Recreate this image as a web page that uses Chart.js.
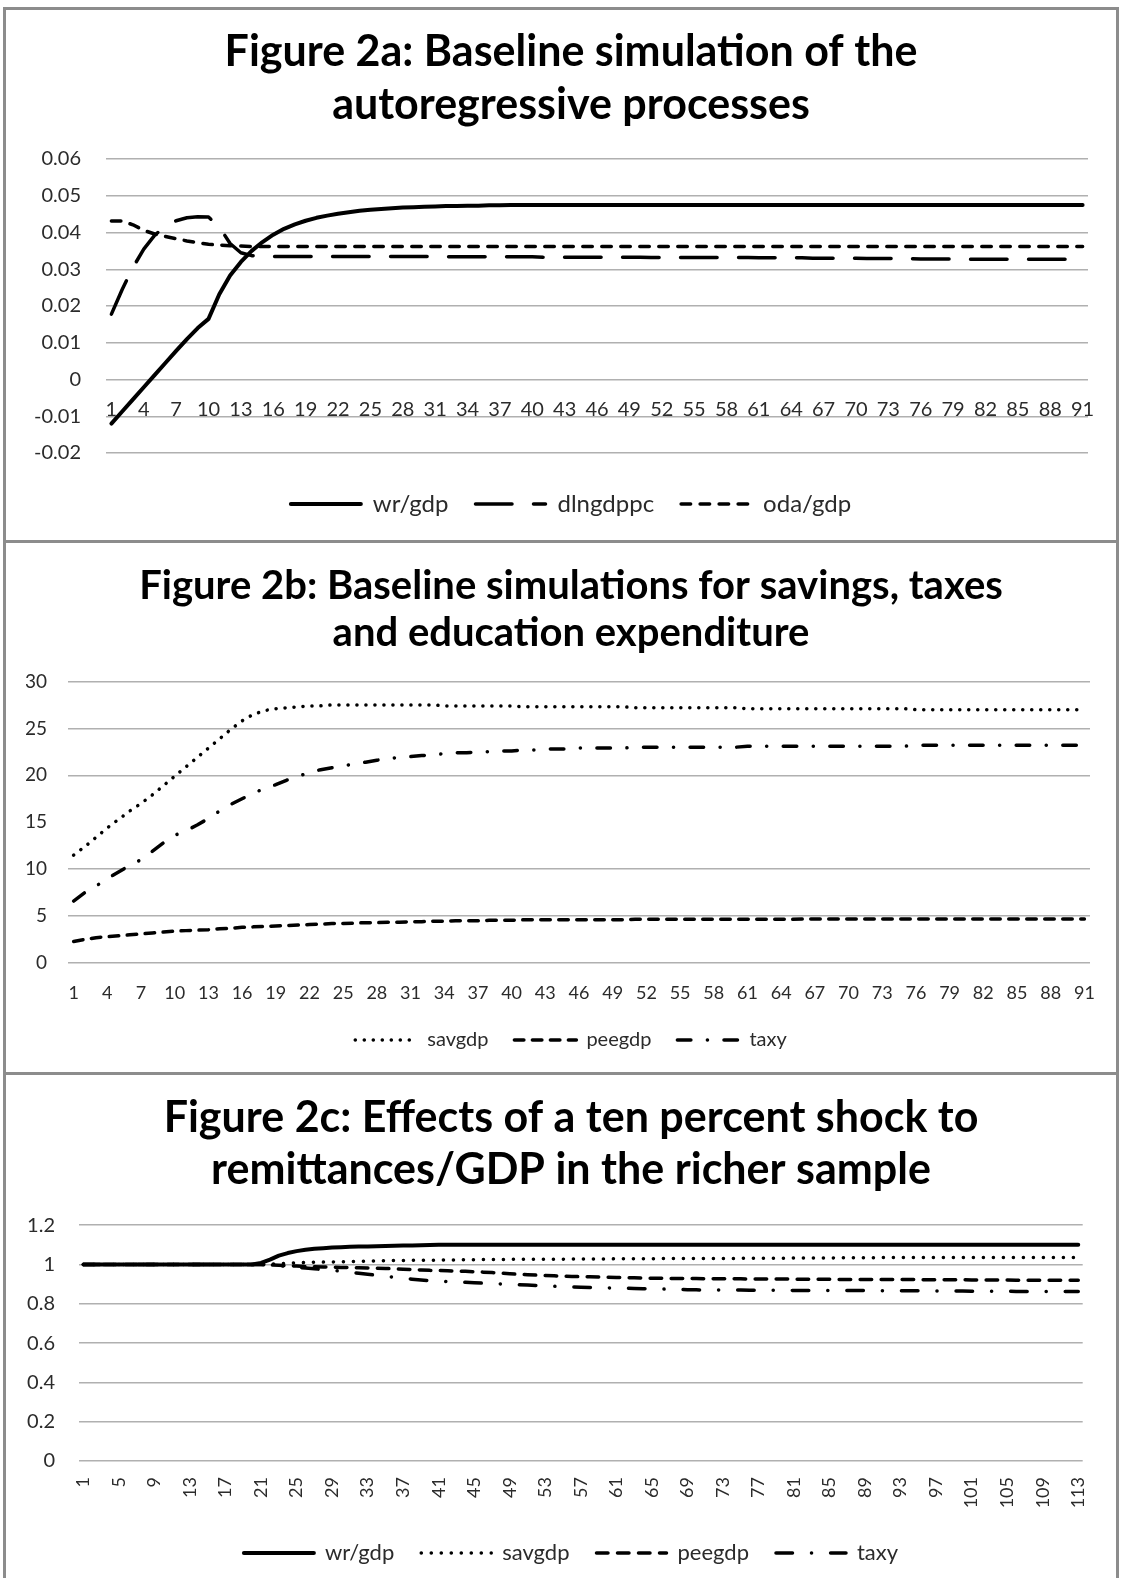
<!DOCTYPE html>
<html>
<head>
<meta charset="utf-8">
<script src="https://cdn.jsdelivr.net/npm/chart.js@4.4.1/dist/chart.umd.min.js"></script>
<style>
	html, body { margin: 0; padding: 0; background: #fff; }
	body { width: 1121px; height: 1578px; overflow: hidden; position: relative; }
	.panel { position: absolute; left: 3px; width: 1116px; border: 3px solid #8c8c8c; box-sizing: border-box; background: #fff; }
	.panel canvas { display: block; }
	#panelA { top: 7px; height: 536px; }
	#panelB { top: 540px; height: 535px; }
	#panelC { top: 1072px; height: 600px; }
</style>
</head>
<body>
<div class="panel" id="panelA"><canvas id="fig2a" width="1110" height="530"></canvas></div>
<div class="panel" id="panelB"><canvas id="fig2b" width="1110" height="529"></canvas></div>
<div class="panel" id="panelC"><canvas id="fig2c" width="1110" height="503"></canvas></div>
<script>
// Figure 2a: baseline simulation of the autoregressive processes (periods 1..91)
const fig2aPeriods = Array.from({ length: 91 }, (_, i) => String(i + 1));
const fig2aWrGdp = [
	-0.0120, -0.0087, -0.0054, -0.0021, 0.0012, 0.0045, 0.0078, 0.0110, 0.0140, 0.0165,
	0.0232, 0.0283, 0.0320, 0.0350, 0.0374, 0.0394, 0.0410, 0.0422, 0.0432, 0.0440,
	0.0446, 0.0451, 0.0455, 0.0459, 0.0462, 0.0464, 0.0466, 0.0468, 0.0469, 0.0470,
	0.0471, 0.0472, 0.0472, 0.0473, 0.0473, 0.0474, 0.0474, 0.0475, 0.0475, 0.0475,
	0.0475, 0.0475, 0.0475, 0.0475, 0.0475, 0.0475, 0.0475, 0.0475, 0.0475, 0.0475,
	0.0475, 0.0475, 0.0475, 0.0475, 0.0475, 0.0475, 0.0475, 0.0475, 0.0475, 0.0475,
	0.0475, 0.0475, 0.0475, 0.0475, 0.0475, 0.0475, 0.0475, 0.0475, 0.0475, 0.0475,
	0.0475, 0.0475, 0.0475, 0.0475, 0.0475, 0.0475, 0.0475, 0.0475, 0.0475, 0.0475,
	0.0475, 0.0475, 0.0475, 0.0475, 0.0475, 0.0475, 0.0475, 0.0475, 0.0475, 0.0475,
	0.0475
];
const fig2aDlngdppc = [
	0.0178, 0.0245, 0.0305, 0.0355, 0.0392, 0.0418, 0.0432, 0.0440, 0.0443, 0.0442,
	0.0415, 0.0370, 0.0345, 0.0337, 0.0335, 0.0335, 0.0335, 0.0335, 0.0335, 0.0335,
	0.0335, 0.0335, 0.0335, 0.0335, 0.0335, 0.0335, 0.0335, 0.0335, 0.0335, 0.0335,
	0.0334, 0.0334, 0.0334, 0.0334, 0.0334, 0.0334, 0.0334, 0.0334, 0.0334, 0.0334,
	0.0333, 0.0333, 0.0333, 0.0333, 0.0333, 0.0333, 0.0333, 0.0333, 0.0333, 0.0333,
	0.0332, 0.0332, 0.0332, 0.0332, 0.0332, 0.0332, 0.0332, 0.0332, 0.0332, 0.0332,
	0.0331, 0.0331, 0.0331, 0.0331, 0.0331, 0.0330, 0.0330, 0.0330, 0.0330, 0.0330,
	0.0329, 0.0329, 0.0329, 0.0329, 0.0329, 0.0328, 0.0328, 0.0328, 0.0328, 0.0328,
	0.0327, 0.0327, 0.0327, 0.0327, 0.0327, 0.0327, 0.0327, 0.0327, 0.0327, 0.0327,
	0.0327
];
const fig2aOdaGdp = [
	0.0431, 0.0431, 0.0421, 0.0406, 0.0396, 0.0389, 0.0383, 0.0377, 0.0372, 0.0368,
	0.0366, 0.0364, 0.0363, 0.0362, 0.0362, 0.0362, 0.0362, 0.0362, 0.0362, 0.0362,
	0.0362, 0.0362, 0.0362, 0.0362, 0.0362, 0.0362, 0.0362, 0.0362, 0.0362, 0.0362,
	0.0362, 0.0362, 0.0362, 0.0362, 0.0362, 0.0362, 0.0362, 0.0362, 0.0362, 0.0362,
	0.0362, 0.0362, 0.0362, 0.0362, 0.0362, 0.0362, 0.0362, 0.0362, 0.0362, 0.0362,
	0.0362, 0.0362, 0.0362, 0.0362, 0.0362, 0.0362, 0.0362, 0.0362, 0.0362, 0.0362,
	0.0362, 0.0362, 0.0362, 0.0362, 0.0362, 0.0362, 0.0362, 0.0362, 0.0362, 0.0362,
	0.0362, 0.0362, 0.0362, 0.0362, 0.0362, 0.0362, 0.0362, 0.0362, 0.0362, 0.0362,
	0.0362, 0.0362, 0.0362, 0.0362, 0.0362, 0.0362, 0.0362, 0.0362, 0.0362, 0.0362,
	0.0362
];

// Figure 2b: savings, taxes and education expenditure (periods 1..91)
const fig2bPeriods = Array.from({ length: 91 }, (_, i) => String(i + 1));
const fig2bSavgdp = [
	11.5, 12.4, 13.4, 14.4, 15.3, 16.2, 17.0, 17.9, 18.9, 19.9,
	20.9, 21.9, 22.9, 23.9, 24.9, 25.8, 26.5, 26.9, 27.1, 27.2,
	27.3, 27.4, 27.4, 27.5, 27.5, 27.5, 27.5, 27.5, 27.5, 27.5,
	27.5, 27.5, 27.5, 27.4, 27.4, 27.4, 27.4, 27.4, 27.4, 27.4,
	27.3, 27.3, 27.3, 27.3, 27.3, 27.3, 27.3, 27.3, 27.3, 27.3,
	27.2, 27.2, 27.2, 27.2, 27.2, 27.2, 27.2, 27.2, 27.2, 27.2,
	27.1, 27.1, 27.1, 27.1, 27.1, 27.1, 27.1, 27.1, 27.1, 27.1,
	27.1, 27.1, 27.1, 27.1, 27.1, 27.0, 27.0, 27.0, 27.0, 27.0,
	27.0, 27.0, 27.0, 27.0, 27.0, 27.0, 27.0, 27.0, 27.0, 27.0,
	27.0
];
const fig2bPeegdp = [
	2.3, 2.5, 2.7, 2.8, 2.9, 3.0, 3.1, 3.2, 3.3, 3.4,
	3.45, 3.5, 3.55, 3.65, 3.7, 3.8, 3.85, 3.9, 3.95, 4.0,
	4.05, 4.1, 4.15, 4.2, 4.2, 4.25, 4.3, 4.3, 4.35, 4.35,
	4.4, 4.4, 4.45, 4.45, 4.5, 4.5, 4.5, 4.55, 4.55, 4.55,
	4.6, 4.6, 4.6, 4.6, 4.6, 4.6, 4.6, 4.6, 4.6, 4.6,
	4.65, 4.65, 4.65, 4.65, 4.65, 4.65, 4.65, 4.65, 4.65, 4.65,
	4.65, 4.65, 4.65, 4.65, 4.65, 4.7, 4.7, 4.7, 4.7, 4.7,
	4.7, 4.7, 4.7, 4.7, 4.7, 4.7, 4.7, 4.7, 4.7, 4.7,
	4.7, 4.7, 4.7, 4.7, 4.7, 4.7, 4.7, 4.7, 4.7, 4.7,
	4.7
];
const fig2bTaxy = [
	6.6, 7.5, 8.2, 9.0, 9.7, 10.4, 11.0, 11.9, 12.8, 13.6,
	14.1, 14.7, 15.4, 16.2, 16.9, 17.5, 18.1, 18.6, 19.0, 19.5,
	19.9, 20.3, 20.6, 20.8, 21.0, 21.2, 21.4, 21.6, 21.8, 21.9,
	22.0, 22.1, 22.2, 22.3, 22.4, 22.4, 22.5, 22.5, 22.6, 22.6,
	22.7, 22.7, 22.8, 22.8, 22.8, 22.9, 22.9, 22.9, 22.9, 22.9,
	23.0, 23.0, 23.0, 23.0, 23.0, 23.0, 23.0, 23.0, 23.0, 23.0,
	23.1, 23.1, 23.1, 23.1, 23.1, 23.1, 23.1, 23.1, 23.1, 23.1,
	23.1, 23.1, 23.1, 23.1, 23.1, 23.2, 23.2, 23.2, 23.2, 23.2,
	23.2, 23.2, 23.2, 23.2, 23.2, 23.2, 23.2, 23.2, 23.2, 23.2,
	23.2
];

// Figure 2c: ten percent shock to remittances/GDP, richer sample (periods 1..113)
const fig2cPeriods = Array.from({ length: 113 }, (_, i) => String(i + 1));
const fig2cWrGdp = [
	1, 1, 1, 1, 1, 1, 1, 1, 1, 1,
	1, 1, 1, 1, 1, 1, 1, 1, 1, 1,
	1.008, 1.025, 1.045, 1.058, 1.068, 1.075, 1.080, 1.083, 1.086, 1.088,
	1.090, 1.091, 1.092, 1.093, 1.094, 1.095, 1.096, 1.097, 1.098, 1.099,
	1.1, 1.1, 1.1, 1.1, 1.1, 1.1, 1.1, 1.1, 1.1, 1.1,
	1.1, 1.1, 1.1, 1.1, 1.1, 1.1, 1.1, 1.1, 1.1, 1.1,
	1.1, 1.1, 1.1, 1.1, 1.1, 1.1, 1.1, 1.1, 1.1, 1.1,
	1.1, 1.1, 1.1, 1.1, 1.1, 1.1, 1.1, 1.1, 1.1, 1.1,
	1.1, 1.1, 1.1, 1.1, 1.1, 1.1, 1.1, 1.1, 1.1, 1.1,
	1.1, 1.1, 1.1, 1.1, 1.1, 1.1, 1.1, 1.1, 1.1, 1.1,
	1.1, 1.1, 1.1, 1.1, 1.1, 1.1, 1.1, 1.1, 1.1, 1.1,
	1.1, 1.1, 1.1
];
const fig2cSavgdp = [
	1, 1, 1, 1, 1, 1, 1, 1, 1, 1,
	1, 1, 1, 1, 1, 1, 1, 1, 1, 1,
	1.000, 1.002, 1.004, 1.006, 1.008, 1.010, 1.011, 1.012, 1.013, 1.014,
	1.015, 1.016, 1.017, 1.018, 1.019, 1.020, 1.020, 1.021, 1.021, 1.022,
	1.022, 1.023, 1.023, 1.024, 1.024, 1.025, 1.025, 1.025, 1.026, 1.026,
	1.027, 1.027, 1.027, 1.027, 1.027, 1.028, 1.028, 1.028, 1.028, 1.028,
	1.029, 1.029, 1.029, 1.029, 1.029, 1.030, 1.030, 1.030, 1.030, 1.030,
	1.031, 1.031, 1.031, 1.031, 1.031, 1.032, 1.032, 1.032, 1.032, 1.032,
	1.033, 1.033, 1.033, 1.033, 1.033, 1.034, 1.034, 1.034, 1.034, 1.034,
	1.035, 1.035, 1.035, 1.035, 1.035, 1.035, 1.035, 1.035, 1.035, 1.035,
	1.036, 1.036, 1.036, 1.036, 1.036, 1.036, 1.036, 1.036, 1.036, 1.036,
	1.036, 1.036, 1.036
];
const fig2cPeegdp = [
	1, 1, 1, 1, 1, 1, 1, 1, 1, 1,
	1, 1, 1, 1, 1, 1, 1, 1, 1, 1,
	1, 0.998, 0.996, 0.994, 0.992, 0.990, 0.988, 0.987, 0.986, 0.985,
	0.984, 0.983, 0.982, 0.981, 0.980, 0.978, 0.976, 0.974, 0.972, 0.970,
	0.969, 0.968, 0.966, 0.965, 0.963, 0.961, 0.959, 0.956, 0.953, 0.950,
	0.948, 0.946, 0.944, 0.942, 0.940, 0.939, 0.938, 0.937, 0.936, 0.935,
	0.934, 0.933, 0.932, 0.931, 0.930, 0.930, 0.929, 0.929, 0.928, 0.928,
	0.927, 0.927, 0.927, 0.927, 0.927, 0.926, 0.926, 0.926, 0.926, 0.926,
	0.925, 0.925, 0.925, 0.925, 0.925, 0.924, 0.924, 0.924, 0.924, 0.924,
	0.923, 0.923, 0.923, 0.923, 0.923, 0.922, 0.922, 0.922, 0.922, 0.922,
	0.921, 0.921, 0.921, 0.921, 0.921, 0.920, 0.920, 0.920, 0.920, 0.920,
	0.920, 0.920, 0.920
];
const fig2cTaxy = [
	1, 1, 1, 1, 1, 1, 1, 1, 1, 1,
	1, 1, 1, 1, 1, 1, 1, 1, 1, 1,
	1, 0.997, 0.993, 0.990, 0.986, 0.982, 0.978, 0.974, 0.970, 0.966,
	0.961, 0.955, 0.950, 0.945, 0.940, 0.935, 0.930, 0.925, 0.921, 0.918,
	0.915, 0.913, 0.911, 0.909, 0.907, 0.905, 0.903, 0.901, 0.899, 0.897,
	0.895, 0.893, 0.891, 0.889, 0.887, 0.885, 0.884, 0.883, 0.882, 0.881,
	0.880, 0.879, 0.878, 0.877, 0.876, 0.875, 0.874, 0.873, 0.872, 0.871,
	0.870, 0.870, 0.870, 0.870, 0.870, 0.869, 0.869, 0.869, 0.869, 0.869,
	0.868, 0.868, 0.868, 0.868, 0.868, 0.867, 0.867, 0.867, 0.867, 0.867,
	0.866, 0.866, 0.866, 0.866, 0.866, 0.865, 0.865, 0.865, 0.865, 0.865,
	0.864, 0.864, 0.864, 0.864, 0.864, 0.863, 0.863, 0.863, 0.863, 0.863,
	0.862, 0.862, 0.862
];

const FONT = 'Lato, "Open Sans", "DejaVu Sans", sans-serif';
const INK = "#000000";
const GRID = "#b0b0b0";
const TICK = "#2b2b2b";

/**
 * One black line series with an Excel-like dash pattern
 */
function lineSet(label, data, width, dash) {
	return {
		label: label,
		data: data,
		borderColor: INK,
		backgroundColor: INK,
		borderWidth: width,
		borderDash: dash,
		borderCapStyle: "round",
		borderJoinStyle: "round",
		pointRadius: 0,
		pointHoverRadius: 0,
		fill: false,
		tension: 0,
		xAxisID: "x",
		yAxisID: "y",
	};
}

/**
 * Legend items drawn as short line samples that keep each dataset's dash
 */
function lineLegendLabels(chart) {
	const items = Chart.defaults.plugins.legend.labels.generateLabels(chart);
	items.forEach((item) => {
		const ds = chart.data.datasets[item.datasetIndex];
		item.lineDash = ds.borderDash;
		item.lineWidth = ds.borderWidth;
		item.lineCap = ds.borderCapStyle;
		item.strokeStyle = ds.borderColor;
	});
	return items;
}

/**
 * Build and draw one panel
 */
function drawPanel(canvasId, p) {
	const canvas = document.getElementById(canvasId);
	const config = {
		type: "line",
		data: { labels: p.labels, datasets: p.datasets },
		options: {
			responsive: false,
			animation: false,
			devicePixelRatio: 1,
			events: [],
			layout: { padding: { left: 20, right: 0, top: 0, bottom: p.bottomPad } },
			plugins: {
				tooltip: { enabled: false },
				title: {
					display: true,
					text: p.title,
					color: INK,
					font: { family: FONT, size: p.titleSize, weight: "bold", lineHeight: p.titleLineHeight },
					padding: { top: p.titleTop, bottom: p.titleBottom },
				},
				legend: {
					position: "bottom",
					labels: {
						usePointStyle: true,
						pointStyle: "line",
						pointStyleWidth: p.legendSample,
						color: TICK,
						font: { family: FONT, size: p.legendSize },
						padding: p.legendPad,
						generateLabels: lineLegendLabels,
					},
				},
			},
			scales: {
				x: {
					type: "category",
					offset: true,
					position: { y: 0 },
					grid: { display: false, drawTicks: false },
					border: { display: false },
					ticks: {
						autoSkip: false,
						minRotation: p.xRotation,
						maxRotation: p.xRotation,
						padding: p.xPad,
						color: TICK,
						font: { family: FONT, size: p.xSize },
						callback: (value, index) => (index % p.labelEvery === 0 ? p.labels[index] : ""),
					},
				},
				y: {
					type: "linear",
					position: "left",
					min: p.yMin,
					max: p.yMax,
					grid: {
						drawTicks: false,
						lineWidth: 1.5,
						color: (ctx) => (ctx.tick && p.hiddenGrid.includes(ctx.tick.value) ? "rgba(0,0,0,0)" : GRID),
					},
					border: { display: false },
					ticks: {
						stepSize: p.yStep,
						padding: p.yPad,
						color: TICK,
						font: { family: FONT, size: p.ySize },
						callback: (value) => String(Number(value.toFixed(p.yDecimals))),
					},
					afterFit: (scale) => {
						scale.width = p.yWidth;
					},
				},
				// empty axes that only hold the plot away from the right edge and the legend
				padR: {
					type: "linear",
					axis: "y",
					position: "right",
					grid: { display: false },
					border: { display: false },
					ticks: { display: false },
					afterFit: (scale) => {
						scale.width = p.rightGap;
					},
				},
				padB: {
					type: "linear",
					axis: "x",
					position: "bottom",
					grid: { display: false },
					border: { display: false },
					ticks: { display: false },
					afterFit: (scale) => {
						scale.height = p.bottomGap;
					},
				},
			},
		},
	};
	return new Chart(canvas, config);
}

window.fig2aChart = drawPanel("fig2a", {
	title: ["Figure 2a: Baseline simulation of the", "autoregressive processes"],
	titleSize: 43, titleLineHeight: 1.221, titleTop: 16, titleBottom: 28,
	labels: fig2aPeriods, labelEvery: 3, xRotation: 0, xPad: 18, xSize: 20,
	datasets: [
		lineSet("wr/gdp", fig2aWrGdp, 4, []),
		lineSet("dlngdppc", fig2aDlngdppc, 3.5, [36.5, 21.5]),
		lineSet("oda/gdp", fig2aOdaGdp, 3.5, [9.5, 9.5]),
	],
	yMin: -0.02, yMax: 0.06, yStep: 0.01, yDecimals: 2, ySize: 20, yWidth: 80, yPad: 25,
	hiddenGrid: [],
	rightGap: 28, bottomGap: 12, bottomPad: 14,
	legendSize: 24, legendPad: 27, legendSample: 70,
});

window.fig2bChart = drawPanel("fig2b", {
	title: ["Figure 2b: Baseline simulations for savings, taxes", "and education expenditure"],
	titleSize: 40, titleLineHeight: 1.181, titleTop: 19, titleBottom: 25,
	labels: fig2bPeriods, labelEvery: 3, xRotation: 0, xPad: 19, xSize: 18,
	datasets: [
		lineSet("savgdp", fig2bSavgdp, 3.5, [0.1, 8.9]),
		lineSet("peegdp", fig2bPeegdp, 3.5, [9.5, 8.5]),
		lineSet("taxy", fig2bTaxy, 3.5, [13.5, 16.5, 0.1, 16.5]),
	],
	yMin: 0, yMax: 30, yStep: 5, yDecimals: 0, ySize: 19, yWidth: 42, yPad: 21,
	hiddenGrid: [15],
	rightGap: 26, bottomGap: 41, bottomPad: 12,
	legendSize: 20, legendPad: 26, legendSample: 62,
});

window.fig2cChart = drawPanel("fig2c", {
	title: ["Figure 2c: Effects of a ten percent shock to", "remittances/GDP in the richer sample"],
	titleSize: 43, titleLineHeight: 1.188, titleTop: 18, titleBottom: 30,
	labels: fig2cPeriods, labelEvery: 4, xRotation: 90, xPad: 16, xSize: 18,
	datasets: [
		lineSet("wr/gdp", fig2cWrGdp, 4, []),
		lineSet("savgdp", fig2cSavgdp, 3.5, [0.1, 9.9]),
		lineSet("peegdp", fig2cPeegdp, 3.5, [11.5, 9.5]),
		lineSet("taxy", fig2cTaxy, 3.5, [16.5, 19, 0.1, 19]),
	],
	yMin: 0, yMax: 1.2, yStep: 0.2, yDecimals: 1, ySize: 20, yWidth: 53, yPad: 24,
	hiddenGrid: [],
	rightGap: 22, bottomGap: 54, bottomPad: 4,
	legendSize: 22, legendPad: 27, legendSample: 70,
});
</script>
</body>
</html>
